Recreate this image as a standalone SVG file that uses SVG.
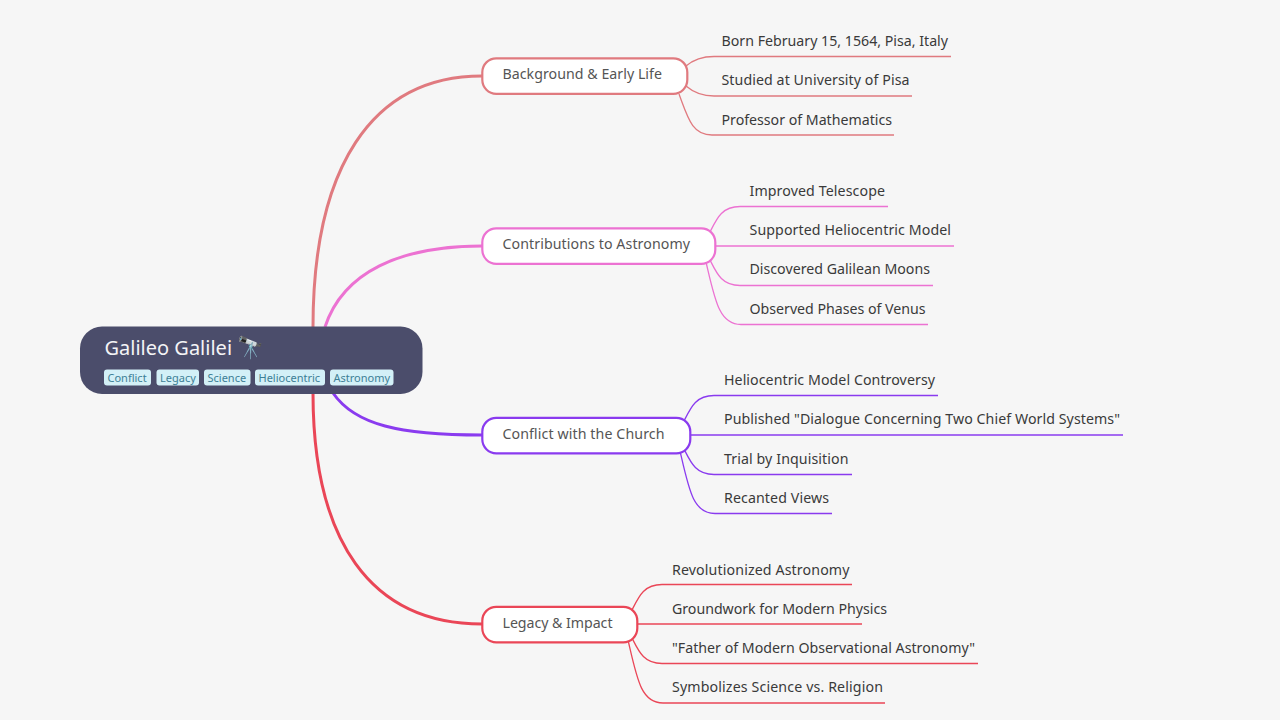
<svg xmlns="http://www.w3.org/2000/svg" width="1280" height="720" viewBox="0 0 1280 720">
<style>
text{font-family:"Noto Sans","Open Sans",sans-serif}
.l{font-size:14.2px;fill:#3a3a3a}
.m{font-size:14.2px;fill:#555}
.t{font-size:11px;fill:#3d7f96}
.tb{fill:#d3f0f7;rx:3px}
.c{fill:none}
.r{stroke:#e07a7f}.p{stroke:#ec72d2}.v{stroke:#8a3bef}.e{stroke:#ea4657}
.n{fill:#fff;stroke-width:2.2}
.s{stroke-width:3}.w{stroke-width:1.3}
</style>
<rect width="1280" height="720" fill="#f6f6f6"/>
<g id="connectors" class="c">
<path class="r s" d="M313 327C313 170 370 76 482 76"/>
<path class="p s" d="M325 327C343 272 400 246 482 246"/>
<path class="v s" d="M333 393C355 425 400 435 482 435"/>
<path class="e s" d="M313 393C313 540 370 624 482 624"/>
<path class="r w" d="M686 66C693 60 702 56.500 714 56.500H951"/>
<path class="r w" d="M686 86C693 92 702 96 714 96H912"/>
<path class="r w" d="M679 94C688 118 692 135 712 135H894"/>
<path class="p w" d="M710 232C717 218 722 206.500 740 206.500H888"/>
<path class="p w" d="M716 246H954"/>
<path class="p w" d="M710 260C717 274 722 285.500 740 285.500H933"/>
<path class="p w" d="M706 262C715 300 719 324.500 741 324.500H928"/>
<path class="v w" d="M684 421C691 407 696 395.500 714 395.500H938"/>
<path class="v w" d="M690 435H1123"/>
<path class="v w" d="M684 449C691 463 696 474.500 714 474.500H852"/>
<path class="v w" d="M680 451C689 490 693 513.500 715 513.500H832"/>
<path class="e w" d="M632 610C639 596 644 584.500 662 584.500H852"/>
<path class="e w" d="M638 624H862"/>
<path class="e w" d="M632 638C639 652 644 663.500 662 663.500H978"/>
<path class="e w" d="M628 640C637 679 641 703 663 703H885"/>
</g>
<g id="root">
<rect x="80" y="326.500" width="342.500" height="67.500" rx="22" fill="#4b4d6b"/>
<text x="104.500" y="354.500" font-size="20" fill="#f4f4f6">Galileo Galilei <tspan font-size="21.5">🔭</tspan></text>
<rect class="tb" x="104" y="369.500" width="47" height="16"/><text class="t" x="107.500" y="382">Conflict</text>
<rect class="tb" x="156.500" y="369.500" width="42.500" height="16"/><text class="t" x="160" y="382">Legacy</text>
<rect class="tb" x="204" y="369.500" width="46.500" height="16"/><text class="t" x="207.500" y="382">Science</text>
<rect class="tb" x="255" y="369.500" width="70" height="16"/><text class="t" x="258.500" y="382">Heliocentric</text>
<rect class="tb" x="330" y="369.500" width="63.500" height="16"/><text class="t" x="333.500" y="382">Astronomy</text>
</g>
<g id="n1"><rect class="n r" x="482.300" y="58.300" width="205" height="35.500" rx="14"/><text class="m" x="502.500" y="79" textLength="159.500">Background &amp; Early Life</text></g>
<g id="n2"><rect class="n p" x="482.300" y="228.300" width="233" height="35.500" rx="14"/><text class="m" x="502.500" y="249" textLength="187.500">Contributions to Astronomy</text></g>
<g id="n3"><rect class="n v" x="482.300" y="417.800" width="208" height="35.500" rx="14"/><text class="m" x="502.500" y="438.500" textLength="162">Conflict with the Church</text></g>
<g id="n4"><rect class="n e" x="482.300" y="606.800" width="155" height="35.500" rx="14"/><text class="m" x="502.500" y="628" textLength="110">Legacy &amp; Impact</text></g>
<g id="leaves">
<text class="l" x="721.500" y="45.800" textLength="226.500">Born February 15, 1564, Pisa, Italy</text>
<text class="l" x="721.500" y="85" textLength="188">Studied at University of Pisa</text>
<text class="l" x="721.500" y="124.600" textLength="170.500">Professor of Mathematics</text>
<text class="l" x="749.500" y="196" textLength="135.500">Improved Telescope</text>
<text class="l" x="749.500" y="235.300" textLength="201.500">Supported Heliocentric Model</text>
<text class="l" x="749.500" y="274.300" textLength="180.500">Discovered Galilean Moons</text>
<text class="l" x="749.500" y="313.800" textLength="176">Observed Phases of Venus</text>
<text class="l" x="724" y="385.300" textLength="211">Heliocentric Model Controversy</text>
<text class="l" x="724" y="424.300" textLength="396">Published "Dialogue Concerning Two Chief World Systems"</text>
<text class="l" x="724" y="463.800" textLength="124.500">Trial by Inquisition</text>
<text class="l" x="724" y="503" textLength="105">Recanted Views</text>
<text class="l" x="672" y="574.800" textLength="177.500">Revolutionized Astronomy</text>
<text class="l" x="672" y="613.800" textLength="215">Groundwork for Modern Physics</text>
<text class="l" x="672" y="653" textLength="303">"Father of Modern Observational Astronomy"</text>
<text class="l" x="672" y="692.300" textLength="211">Symbolizes Science vs. Religion</text>
</g>
</svg>
